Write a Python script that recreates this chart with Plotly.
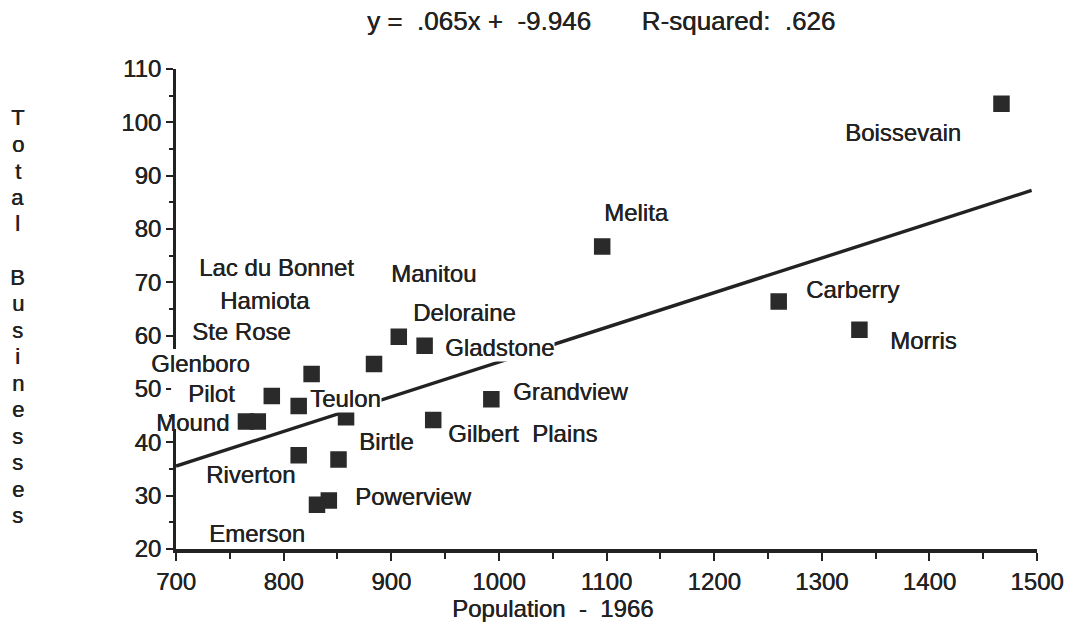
import plotly.graph_objects as go

# ---------------- data ----------------
towns = ["Boissevain", "Melita", "Carberry", "Morris", "Manitou", "Gladstone",
         "Lac du Bonnet", "Hamiota", "Pilot", "Ste Rose", "Mound", "Glenboro",
         "Teulon", "Gilbert\u00a0\u00a0Plains", "Grandview", "Riverton", "Birtle",
         "Emerson", "Powerview"]
population = [1467, 1096, 1260, 1335, 907, 931,
              884, 826, 789, 814, 765, 776,
              858, 939, 993, 814, 851,
              831, 842]
businesses = [103.5, 76.7, 66.4, 61.1, 59.8, 58.1,
              54.7, 52.8, 48.7, 46.8, 43.9, 43.9,
              44.7, 44.2, 48.1, 37.6, 36.8,
              28.3, 29.1]

slope = 0.065
intercept = -9.946
r_squared = 0.626
fit_x = [700, 1495]

x_ticks = [700, 800, 900, 1000, 1100, 1200, 1300, 1400, 1500]
y_ticks = [20, 30, 40, 50, 60, 70, 80, 90, 100, 110]

# label placement: (text, index of point, x shift px, y shift px)
labels = [
    ("Boissevain", 0, -158, -29),
    ("Melita", 1, 0, 34),
    ("Carberry", 2, 25, 12),
    ("Morris", 3, 29, -11),
    ("Manitou", 4, -10, 63),
    ("Deloraine", 5, -14, 33),
    ("Gladstone", 5, 19, -2),
    ("Lac du Bonnet", 6, -177, 96),
    ("Hamiota", 7, -94, 74),
    ("Pilot", 8, -86, 2),
    ("Ste Rose", 9, -109, 75),
    ("Mound", 10, -92, -1),
    ("Glenboro", 11, -108, 58),
    ("Teulon", 12, -37, 19),
    ("Gilbert\u00a0\u00a0Plains", 13, 13, -14),
    ("Grandview", 14, 20, 8),
    ("Riverton", 15, -95, -19),
    ("Birtle", 16, 18, 18),
    ("Emerson", 17, -110, -29),
    ("Powerview", 18, 24, 4),
]
white_bg = {"Teulon", "Gladstone", "Glenboro"}

# ---------------- figure ----------------
INK = "#222222"
FONT = "Liberation Sans, Arial, sans-serif"
SHADOW = "0.4px 0px 0px #222222"

fig = go.Figure()

fit_y = [slope * x + intercept for x in fit_x]
fig.add_trace(go.Scatter(x=fit_x, y=fit_y, mode="lines",
                         line=dict(color=INK, width=3.4), hoverinfo="skip"))
fig.add_trace(go.Scatter(x=population, y=businesses, mode="markers", text=towns,
                         marker=dict(symbol="square", size=13, color="#2a2a2a",
                                     line=dict(color="#2a2a2a", width=3.5))))

L, R, T, B = 176, 29, 69, 78
W, H = 1076, 627
pw, ph = W - L - R, H - T - B


def tfont(size):
    return dict(family=FONT, size=size, color=INK, shadow=SHADOW)


annotations = []
for text, idx, dx, dy in labels:
    a = dict(x=population[idx], y=businesses[idx], xref="x", yref="y",
             text=text, showarrow=False, xanchor="left", yanchor="middle",
             xshift=dx, yshift=dy, font=tfont(24))
    if text in white_bg:
        a["bgcolor"] = "white"
        a["borderpad"] = 0
    annotations.append(a)

NB = "\u00a0"
title_txt = (f"y{NB}={NB}{NB}{slope:.3f}x{NB}+{NB}{NB}{intercept:.3f}"
             f"{NB*7}R-squared:{NB}{NB}{r_squared:.3f}").replace("0.", ".")
annotations.append(dict(
    text=title_txt, xref="paper", yref="paper", x=(606 - L) / pw, y=(549 - 21) / ph,
    showarrow=False, xanchor="center", yanchor="middle", font=tfont(26)))
# x-axis title
annotations.append(dict(
    text=f"Population{NB}{NB}-{NB}{NB}1966", xref="paper", yref="paper",
    x=(557 - L) / pw, y=-(608 - 549) / ph, showarrow=False,
    xanchor="center", yanchor="middle", font=tfont(24)))
# vertical stacked y-axis title
ytitle = list("Total") + [""] + list("Businesses")
for k, ch in enumerate(ytitle):
    if not ch:
        continue
    py = 118 + k * 26.5
    annotations.append(dict(
        text=ch, xref="paper", yref="paper", x=(16 - L) / pw, y=(549 - py) / ph,
        showarrow=False, xanchor="center", yanchor="middle", font=tfont(22)))

fig.update_layout(
    width=W, height=H, margin=dict(l=L, r=R, t=T, b=B, pad=0),
    paper_bgcolor="white", plot_bgcolor="white", showlegend=False,
    annotations=annotations,
    shapes=[dict(type="rect", xref="paper", yref="y", x0=-5 / pw, x1=5 / pw,
                 y0=42.5, y1=57.5, fillcolor="white", line=dict(width=0),
                 layer="above")],
    xaxis=dict(range=[700, 1500], tickvals=x_ticks,
               showgrid=False, zeroline=False, ticklabeloverflow="allow",
               showline=True, linecolor=INK, linewidth=3.5, ticks="outside",
               ticklen=8, tickwidth=2, tickcolor=INK,
               minor=dict(dtick=50, ticks="outside", ticklen=6, tickwidth=2, tickcolor=INK),
               tickfont=tfont(24)),
    yaxis=dict(range=[20, 110], tickvals=y_ticks,
               showgrid=False, zeroline=False,
               showline=True, linecolor=INK, linewidth=3, ticks="outside",
               ticklen=7, tickwidth=2, tickcolor=INK,
               minor=dict(dtick=5, ticks="outside", ticklen=4, tickwidth=2, tickcolor=INK),
               tickfont=tfont(24)),
)

fig.write_html("out.html")
